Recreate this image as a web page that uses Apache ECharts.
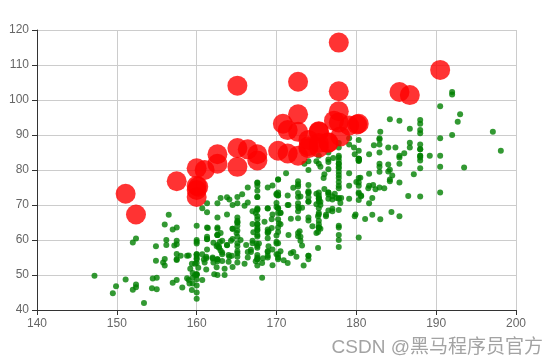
<!DOCTYPE html>
<html>
<head>
<meta charset="utf-8">
<script src="https://cdn.jsdelivr.net/npm/echarts@6/dist/echarts.min.js"></script>
<style>
html,body{margin:0;padding:0;background:#fff;}
#main{width:560px;height:363px;}
</style>
</head>
<body>
<div id="main"></div>
<script>
var xTicks = [140, 150, 160, 170, 180, 190, 200];
var yTicks = [40, 50, 60, 70, 80, 90, 100, 110, 120];

var femaleData = [[161.2, 51.6], [167.5, 59.0], [159.5, 49.2], [157.0, 63.0], [155.8, 53.6], [170.0, 59.0], [159.1, 47.6], [166.0, 69.8], [176.2, 66.8], [160.2, 75.2], [172.5, 55.2], [170.9, 54.2], [172.9, 62.5], [153.4, 42.0], [160.0, 50.0], [147.2, 49.8], [168.2, 49.2], [175.0, 73.2], [157.0, 47.8], [167.6, 68.8], [159.5, 50.6], [175.0, 82.5], [166.8, 57.2], [176.5, 87.8], [170.2, 72.8], [174.0, 54.5], [173.0, 59.8], [179.9, 67.3], [170.5, 67.8], [160.0, 47.0], [154.4, 46.2], [162.0, 55.0], [176.5, 83.0], [160.0, 54.4], [152.0, 45.8], [162.1, 53.6], [170.0, 73.2], [160.2, 52.1], [161.3, 67.9], [166.4, 56.6], [168.9, 62.3], [163.8, 58.5], [167.6, 54.5], [160.0, 50.2], [161.3, 60.3], [167.6, 58.3], [165.1, 56.2], [160.0, 50.2], [170.0, 72.9], [157.5, 59.8], [167.6, 61.0], [160.7, 69.1], [163.2, 55.9], [152.4, 46.5], [157.5, 54.3], [168.3, 54.8], [180.3, 60.7], [165.5, 60.0], [165.0, 62.0], [164.5, 60.3], [156.0, 52.7], [160.0, 74.3], [163.0, 62.0], [165.7, 73.1], [161.0, 80.0], [162.0, 54.7], [166.0, 53.2], [174.0, 75.7], [172.7, 61.1], [167.6, 55.7], [151.1, 48.7], [164.5, 52.3], [163.5, 50.0], [152.0, 59.3], [169.0, 62.5], [164.0, 55.7], [161.2, 54.8], [155.0, 45.9], [170.0, 70.6], [176.2, 67.2], [170.0, 69.4], [162.5, 58.2], [170.3, 64.8], [164.1, 71.6], [169.5, 52.8], [163.2, 59.8], [154.5, 49.0], [159.8, 50.0], [173.2, 69.2], [170.0, 55.9], [161.4, 63.4], [169.0, 58.2], [166.2, 58.6], [159.4, 45.7], [162.5, 52.2], [159.0, 48.6], [162.8, 57.8], [159.0, 55.6], [179.8, 66.8], [162.9, 59.4], [161.0, 53.6], [151.1, 73.2], [168.2, 53.4], [168.9, 69.0], [173.2, 58.4], [171.8, 56.2], [178.0, 70.6], [164.3, 59.8], [163.0, 72.0], [168.5, 65.2], [166.8, 56.6], [172.7, 105.2], [163.5, 51.8], [169.4, 63.4], [167.8, 59.0], [159.5, 47.6], [167.6, 63.0], [161.2, 55.2], [160.0, 45.0], [163.2, 54.0], [162.2, 50.2], [161.3, 60.2], [149.5, 44.8], [157.5, 58.8], [163.2, 56.4], [172.7, 62.0], [155.0, 49.2], [156.5, 67.2], [164.0, 53.8], [160.9, 54.4], [162.8, 58.0], [167.0, 59.8], [160.0, 54.8], [160.0, 43.2], [168.9, 60.5], [158.2, 46.4], [156.0, 64.4], [160.0, 48.8], [167.1, 62.2], [158.0, 55.5], [167.6, 57.8], [156.0, 54.6], [162.1, 59.2], [173.4, 52.7], [159.8, 53.2], [170.5, 64.5], [159.2, 51.8], [157.5, 56.0], [161.3, 63.6], [162.6, 63.2], [160.0, 59.5], [168.9, 56.8], [165.1, 64.1], [162.6, 50.0], [165.1, 72.3], [166.4, 55.0], [160.0, 55.9], [152.4, 60.4], [170.2, 69.1], [162.6, 84.5], [170.2, 55.9], [158.8, 55.5], [172.7, 69.5], [167.6, 76.4], [162.6, 61.4], [167.6, 65.9], [156.2, 58.6], [175.2, 66.8], [172.1, 56.6], [162.6, 58.6], [160.0, 55.9], [165.1, 59.1], [182.9, 81.8], [166.4, 70.7], [165.1, 56.8], [177.8, 60.0], [165.1, 58.2], [175.3, 72.7], [154.9, 54.1], [158.8, 49.1], [172.7, 75.9], [168.9, 55.0], [161.3, 57.3], [167.6, 55.0], [165.1, 65.5], [175.3, 65.5], [157.5, 48.6], [163.8, 58.6], [167.6, 63.6], [165.1, 55.2], [165.1, 62.7], [168.9, 56.6], [162.6, 53.9], [164.5, 63.2], [176.5, 73.6], [168.9, 62.0], [175.3, 63.6], [159.4, 53.2], [160.0, 53.4], [170.2, 55.0], [162.6, 70.5], [167.6, 54.5], [162.6, 54.5], [160.7, 55.9], [160.0, 59.0], [157.5, 63.6], [162.6, 54.5], [152.4, 47.3], [170.2, 67.7], [165.1, 80.9], [172.7, 70.5], [165.1, 60.9], [170.2, 63.6], [170.2, 54.5], [170.2, 59.1], [161.3, 70.5], [167.6, 52.7], [167.6, 62.7], [165.1, 86.3], [162.6, 66.4], [152.4, 67.3], [168.9, 63.0], [170.2, 73.6], [175.2, 62.3], [175.2, 57.7], [160.0, 55.4], [165.1, 104.1], [174.0, 55.5], [170.2, 77.3], [160.0, 80.5], [167.6, 64.5], [167.6, 72.3], [167.6, 61.4], [154.9, 58.2], [162.6, 81.8], [175.3, 63.6], [171.4, 53.4], [157.5, 54.5], [165.1, 53.6], [160.0, 60.0], [174.0, 73.6], [162.6, 61.4], [174.0, 55.5], [162.6, 63.6], [161.3, 60.9], [156.2, 60.0], [149.9, 46.8], [169.5, 57.3], [160.0, 64.1], [175.3, 63.6], [169.5, 67.3], [160.0, 75.5], [172.7, 68.2], [162.6, 61.4], [157.5, 76.8], [176.5, 71.8], [164.4, 55.5], [160.7, 48.6], [174.0, 66.4], [163.8, 67.3]];

var maleData = [[174.0, 65.6], [175.3, 71.8], [193.5, 80.7], [186.5, 72.6], [187.2, 78.8], [181.5, 74.8], [184.0, 86.4], [184.5, 78.4], [175.0, 62.0], [184.0, 81.6], [180.0, 76.6], [177.8, 83.6], [192.0, 90.0], [176.0, 74.6], [174.0, 71.0], [184.0, 79.6], [192.7, 93.8], [171.5, 70.0], [173.0, 72.4], [176.0, 85.9], [176.0, 78.8], [180.5, 77.8], [172.7, 66.2], [176.0, 86.4], [173.5, 81.8], [178.0, 89.6], [180.3, 82.8], [180.3, 76.4], [164.5, 63.2], [173.0, 60.9], [183.5, 74.8], [175.5, 70.0], [188.0, 72.4], [189.2, 84.1], [172.8, 69.1], [170.0, 59.5], [182.0, 67.2], [170.0, 61.3], [177.8, 68.6], [184.2, 80.1], [186.7, 87.8], [171.4, 84.7], [172.7, 73.4], [175.3, 72.1], [180.3, 82.6], [182.9, 88.7], [188.0, 84.1], [177.2, 94.1], [172.1, 74.9], [167.0, 59.1], [169.5, 75.6], [174.0, 86.2], [172.7, 75.3], [182.2, 87.1], [164.1, 55.2], [163.0, 57.0], [171.5, 61.4], [184.2, 76.8], [174.0, 86.8], [174.0, 72.2], [177.0, 71.6], [186.0, 84.8], [167.0, 68.2], [171.8, 66.1], [182.0, 72.0], [167.0, 64.6], [177.8, 74.8], [164.5, 70.0], [192.0, 101.6], [175.5, 63.2], [171.2, 79.1], [181.6, 78.9], [167.4, 67.7], [181.1, 66.0], [177.0, 68.2], [174.5, 63.9], [177.5, 72.0], [170.5, 56.8], [182.4, 74.5], [197.1, 90.9], [180.1, 93.0], [175.5, 80.9], [180.6, 72.7], [184.4, 68.0], [175.5, 70.9], [180.6, 72.5], [177.0, 72.5], [177.1, 83.4], [181.6, 75.5], [176.5, 73.0], [175.0, 70.2], [174.0, 73.4], [165.1, 70.5], [177.0, 68.9], [192.0, 102.3], [176.5, 68.4], [169.4, 65.9], [182.1, 75.7], [179.8, 84.5], [175.3, 87.7], [184.9, 86.4], [177.3, 73.2], [167.4, 53.9], [178.1, 72.0], [168.9, 55.5], [157.2, 58.4], [180.3, 83.2], [170.2, 72.7], [177.8, 64.1], [172.7, 72.3], [165.1, 65.0], [186.7, 86.4], [165.1, 65.0], [174.0, 88.6], [175.3, 84.1], [185.4, 66.8], [177.8, 75.5], [180.3, 93.2], [180.3, 82.7], [177.8, 58.0], [177.8, 79.5], [177.8, 78.6], [177.8, 71.8], [177.8, 116.4], [163.8, 72.2], [188.0, 83.6], [198.1, 85.5], [175.3, 90.9], [166.4, 85.9], [190.5, 89.1], [166.4, 75.0], [177.8, 77.7], [179.7, 86.4], [172.7, 90.9], [190.5, 73.6], [185.4, 76.4], [168.9, 69.1], [167.6, 84.5], [175.3, 64.5], [170.2, 69.1], [190.5, 108.6], [177.8, 86.4], [190.5, 80.9], [177.8, 87.7], [184.2, 94.5], [176.5, 80.2], [177.8, 72.0], [180.3, 71.4], [171.4, 72.7], [172.7, 84.1], [172.7, 76.8], [177.8, 63.6], [177.8, 80.9], [182.9, 80.9], [170.2, 85.5], [167.6, 68.6], [175.3, 67.7], [165.1, 66.4], [185.4, 102.3], [181.6, 70.5], [172.7, 95.9], [190.5, 84.1], [179.1, 87.3], [175.3, 71.8], [170.2, 65.9], [193.0, 95.9], [171.4, 91.4], [177.8, 81.8], [177.8, 96.8], [167.6, 69.1], [167.6, 82.7], [180.3, 75.5], [182.9, 79.5], [176.5, 73.6], [186.7, 91.8], [188.0, 84.1], [188.0, 85.9], [177.8, 81.8], [174.0, 82.5], [177.8, 80.5], [171.4, 70.0], [185.4, 81.8], [185.4, 84.1], [188.0, 90.5], [188.0, 91.4], [182.9, 89.1], [176.5, 85.0], [175.3, 69.1], [175.3, 73.6], [188.0, 80.5], [188.0, 82.7], [175.3, 86.4], [170.5, 67.7], [179.1, 92.7], [177.8, 93.6], [175.3, 70.9], [182.9, 75.0], [170.8, 93.2], [188.0, 93.2], [180.3, 77.7], [177.8, 61.4], [185.4, 94.1], [168.9, 75.0], [185.4, 83.6], [180.3, 85.5], [174.0, 73.9], [167.6, 66.8], [182.9, 87.3], [160.0, 72.3], [180.3, 88.6], [167.6, 75.5], [186.7, 101.4], [175.3, 91.1], [175.3, 67.3], [175.9, 77.7], [175.3, 81.8], [179.1, 75.5], [181.6, 84.5], [177.8, 76.6], [182.9, 85.0], [177.8, 102.5], [184.2, 77.3], [179.1, 71.8], [176.5, 87.9], [188.0, 94.3], [174.0, 70.9], [167.6, 64.5], [170.2, 77.3], [167.6, 72.3], [188.0, 87.3], [174.0, 80.0], [176.5, 82.3], [180.3, 73.6], [167.6, 74.1], [188.0, 85.9], [180.3, 73.2], [167.6, 76.3], [183.0, 65.9], [183.0, 90.9], [179.1, 89.1], [170.2, 62.3], [177.8, 82.7], [179.1, 79.1], [190.5, 98.2], [177.8, 84.1], [180.3, 83.2], [180.3, 83.2]];

var bmiLimit = 28;
var allData = femaleData.concat(maleData);
function bmi(p) { var h = p[0] / 100; return p[1] / (h * h); }
var normalData = allData.filter(function (p) { return bmi(p) < bmiLimit; });
var heavyData = allData.filter(function (p) { return bmi(p) >= bmiLimit; });

var chart = echarts.init(document.getElementById('main'), null, { renderer: 'canvas' });
var axisCommon = {
  type: 'value',
  axisLine: { show: true, lineStyle: { color: '#333' } },
  axisTick: { show: true, length: 5, lineStyle: { color: '#333' } },
  axisLabel: { color: '#666', fontSize: 12, margin: 8 },
  splitLine: { show: true, lineStyle: { color: '#ccc' } }
};
chart.setOption({
  animation: false,
  grid: { left: 37, right: 44, top: 30, bottom: 53, containLabel: false },
  xAxis: Object.assign({}, axisCommon, { min: xTicks[0], max: xTicks[xTicks.length - 1], interval: 10 }),
  yAxis: Object.assign({}, axisCommon, { min: yTicks[0], max: yTicks[yTicks.length - 1], interval: 10 }),
  series: [
    {
      type: 'scatter',
      data: normalData,
      symbolSize: 6,
      itemStyle: { color: 'green', opacity: 0.8 }
    },
    {
      type: 'scatter',
      data: heavyData,
      symbolSize: 20,
      itemStyle: { color: 'red', opacity: 0.8 }
    }
  ],
  graphic: [{
    type: 'text',
    right: 17,
    bottom: 6,
    style: {
      text: 'CSDN @黑马程序员官方',
      fill: '#a3a3a3',
      font: '19px "Liberation Sans", "Noto Sans CJK SC", sans-serif'
    }
  }]
});
</script>
</body>
</html>
